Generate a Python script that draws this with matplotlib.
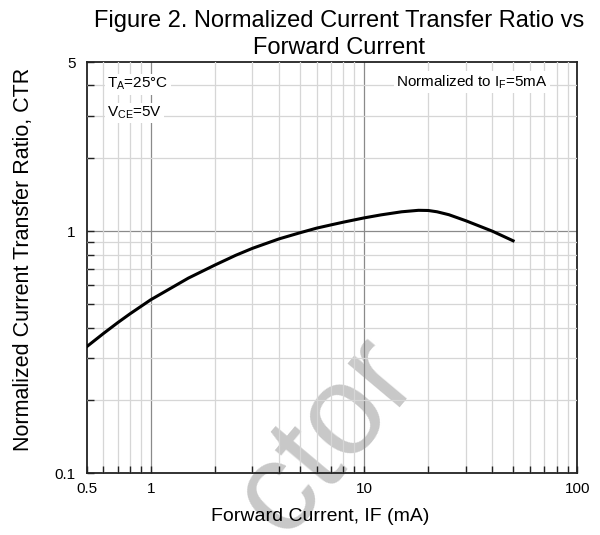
import matplotlib
matplotlib.use("Agg")
from matplotlib import pyplot as plt
from matplotlib.ticker import LogLocator, FixedLocator, NullFormatter, FixedFormatter

# values
forward_current = [0.5, 0.6, 0.7, 0.8, 1, 1.5, 2, 2.5, 3, 4, 5, 6, 7, 8, 10,
                   12, 15, 18, 20, 22, 25, 30, 40, 50]
ctr_norm = [0.333, 0.378, 0.419, 0.456, 0.521, 0.64, 0.725, 0.795, 0.85, 0.93, 0.985,
            1.03, 1.062, 1.09, 1.135, 1.168, 1.203, 1.22, 1.218, 1.203, 1.17, 1.105,
            1.0, 0.913]

x_ticks = [0.5, 1, 10, 100]
x_tick_labels = ["0.5", "1", "10", "100"]
y_ticks = [0.1, 1, 5]
y_tick_labels = ["0.1", "1", "5"]

plt.rcParams["font.family"] = ["Liberation Sans", "DejaVu Sans"]
plt.rcParams["mathtext.default"] = "regular"


def main() -> None:
    fig = plt.figure(figsize=(6, 5.35), dpi=100)
    ax = fig.add_axes([0.1442, 0.1153, 0.818, 0.7688])
    ax.set_axisbelow(False)

    ax.set_xscale("log")
    ax.set_yscale("log")
    ax.set_xlim(0.5, 100)
    ax.set_ylim(0.1, 5)

    # grid: light minor lines, darker decade lines
    ax.xaxis.set_minor_locator(LogLocator(base=10, subs=range(2, 10)))
    ax.yaxis.set_minor_locator(LogLocator(base=10, subs=range(2, 10)))
    ax.xaxis.set_minor_formatter(NullFormatter())
    ax.yaxis.set_minor_formatter(NullFormatter())
    ax.grid(which="minor", color="#d6d6d6", linewidth=0.9)
    for v in [1, 10]:
        ax.axvline(v, color="#8a8a8a", linewidth=0.9, zorder=2)
    ax.axhline(1, color="#8a8a8a", linewidth=0.9, zorder=2)

    ax.xaxis.set_major_locator(FixedLocator(x_ticks))
    ax.xaxis.set_major_formatter(FixedFormatter(x_tick_labels))
    ax.yaxis.set_major_locator(FixedLocator(y_ticks))
    ax.yaxis.set_major_formatter(FixedFormatter(y_tick_labels))
    ax.tick_params(which="both", direction="in", length=5, width=1, labelsize=11, color="#222222")
    ax.tick_params(axis="x", which="major", pad=6)
    ax.tick_params(axis="y", which="major", pad=8)
    for s in ax.spines.values():
        s.set_linewidth(1.3)
        s.set_color("#222222")

    ax.plot(forward_current, ctr_norm, color="black", linewidth=2.2, zorder=3)

    box = dict(facecolor="white", edgecolor="none", pad=1.5)
    ax.text(0.042, 0.946, r"T$_{A}$=25°C", transform=ax.transAxes, fontsize=11,
            va="center", bbox=box, zorder=4)
    ax.text(0.042, 0.876, r"V$_{CE}$=5V", transform=ax.transAxes, fontsize=11,
            va="center", bbox=box, zorder=4)
    ax.text(0.94, 0.951, r"Normalized to I$_{F}$=5mA", transform=ax.transAxes,
            fontsize=11, ha="right", va="center", bbox=box, zorder=4)

    # watermark
    ax.text(0.49, 0.09, "ctor", transform=ax.transAxes, fontsize=92, color="#c8c8c8",
            rotation=50, ha="center", va="center", rotation_mode="anchor",
            clip_on=False, zorder=1.7)

    ax.set_xlabel("Forward Current, IF (mA)", fontsize=14, labelpad=6)
    ax.xaxis.set_label_coords(0.476, -0.085)
    ax.set_ylabel("Normalized Current Transfer Ratio, CTR", fontsize=15.5)
    ax.yaxis.set_label_coords(-0.108, 0.519)
    fig.suptitle("Figure 2. Normalized Current Transfer Ratio vs\nForward Current",
                 fontsize=17, x=0.565, y=0.982, linespacing=1.3)

    fig.savefig("out.png", dpi=100)


if __name__ == "__main__":
    main()
